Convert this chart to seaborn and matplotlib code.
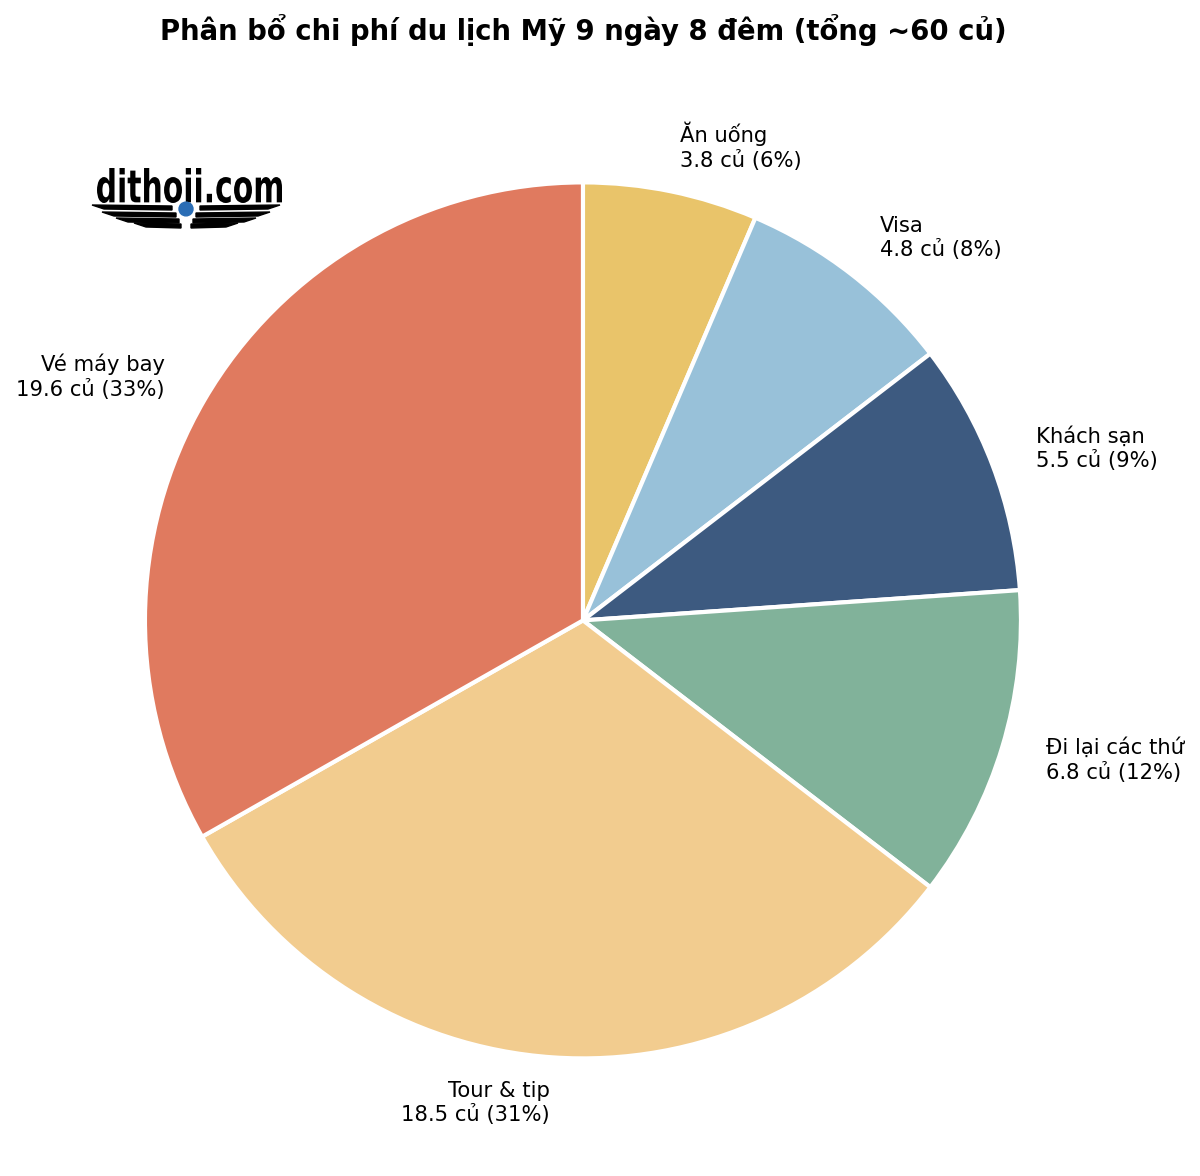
import matplotlib
matplotlib.use("Agg")
import matplotlib.pyplot as plt
import seaborn as sns
from matplotlib.textpath import TextPath
from matplotlib.patches import PathPatch
from matplotlib.font_manager import FontProperties
from matplotlib.transforms import Affine2D

sns.set_theme(style="white")
plt.rcParams['font.family'] = ['DejaVu Sans']

categories = ["Ăn uống", "Visa", "Khách sạn", "Đi lại các thứ", "Tour & tip", "Vé máy bay"]
values = [3.8, 4.8, 5.5, 6.8, 18.5, 19.6]
colors = ["#E9C46A", "#98C1D9", "#3D5A80", "#81B29A", "#F2CC8F", "#E07A5F"]

total = sum(values)
labels = [f"{c}\n{v} củ ({v / total * 100:.0f}%)" for c, v in zip(categories, values)]

W, H = 1200, 1176
fig = plt.figure(figsize=(W / 100, H / 100), dpi=100)
ax = fig.add_axes([0.1208, 0.1, 0.73, 0.7449])
pal = sns.color_palette(colors)
wedges, texts = ax.pie(values, labels=labels, colors=pal, startangle=90, counterclock=False,
                       labeldistance=1.105,
                       wedgeprops=dict(edgecolor="white", linewidth=3),
                       textprops=dict(fontsize=15.2, color="black"))
ax.set_xlim(-1, 1)
ax.set_ylim(-1, 1)
ax.set_aspect("equal")
ax.axis("off")

fig.suptitle("Phân bổ chi phí du lịch Mỹ 9 ngày 8 đêm (tổng ~60 củ)",
             fontsize=19.8, fontweight="bold", color="black", x=0.486, y=0.988)

# logo watermark (dithoii.com)
def px(x, y):
    return (x / W, 1 - y / H)

tp = TextPath((0, 0), "dithoii.com", size=50,
              prop=FontProperties(family="DejaVu Sans", weight="bold"))
ext = tp.get_extents()
x0, x1, top, base = 97, 282, 168, 203
sx = (x1 - x0) / ext.width
sy = (base - top) / ext.height
tr = Affine2D().translate(-ext.x0, -ext.y0).scale(sx, sy).translate(x0, H - base)
fig.add_artist(PathPatch(tp, facecolor="black", edgecolor="none", transform=tr))

stripes = [(92, 205, 172), (102, 212, 176), (116, 218, 179), (134, 223, 181)]
for x_out, y_top, x_in in stripes:
    for side in (-1, 1):
        def mx(x):
            return x if side < 0 else 372 - x
        poly = [px(mx(x_out), y_top), px(mx(x_in), y_top + 1), px(mx(x_in), y_top + 5),
                px(mx(x_out + 12), y_top + 4)]
        fig.add_artist(plt.Polygon(poly, closed=True, color="black", transform=fig.transFigure))
fig.add_artist(plt.Circle(px(186, 209), 7 / W, color="#2a6db5", transform=fig.transFigure))

fig.savefig("out.png", dpi=100)
